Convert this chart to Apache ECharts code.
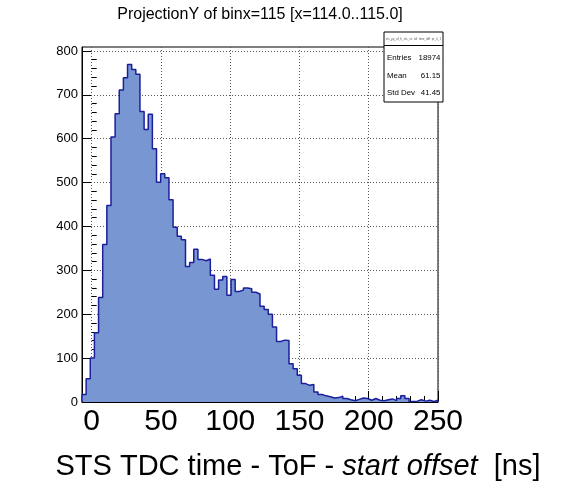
<!DOCTYPE html>
<html>
<head>
<meta charset="utf-8">
<script src="https://cdn.jsdelivr.net/npm/echarts@6/dist/echarts.min.js"></script>
<style>
  html, body { margin: 0; padding: 0; background: #ffffff; }
  #chart { width: 575px; height: 487px; }
</style>
</head>
<body>
<div id="chart"></div>
<script>
// Histogram: ProjectionY of binx=115, STS TDC time relative to ToF minus start offset
const histTitle = 'ProjectionY of binx=115 [x=114.0..115.0]';
const histName = 'sts_py_of_h_sts_vs_tof_time_diff_pr_0_1';
const xTitleParts = ['STS TDC time - ToF - ', 'start offset', '  [ns]'];

// Axis range of the histogram (bins are equally wide inside it)
const xLow = -7;
const xHigh = 250;
const yMax = 809;

// Bin contents, left to right
const counts = [
  17, 53, 100, 158, 238, 359, 448, 604, 657, 711,
  739, 769, 758, 747, 662, 621, 656, 577, 501, 520,
  511, 461, 398, 378, 370, 309, 318, 348, 325, 322,
  326, 289, 257, 278, 286, 243, 279, 252, 255, 260,
  258, 250, 246, 218, 211, 200, 171, 138, 141, 140,
  87, 76, 61, 42, 38, 40, 23, 17, 14, 12,
  9, 10, 13, 8, 5, 3, 6, 9, 8, 4,
  8, 4, 3, 5, 7, 3, 8, 14, 8, 1,
  2, 5, 2, 4, 1, 4
];

// Tick labels
const xTickLabels = [0, 50, 100, 150, 200, 250];
const yTickLabels = [0, 100, 200, 300, 400, 500, 600, 700, 800];

// Statistics box
const statNames = ['Entries', 'Mean', 'Std Dev'];
const statValues = ['18974', '61.15', '41.45'];

// Minor tick positions (every 10 on x, every 20 on y)
const xMinorTicks = [];
for (let v = 0; v <= xHigh; v += 10) if (v % 50 !== 0) xMinorTicks.push(v);
const yMinorTicks = [];
for (let v = 0; v <= yMax; v += 20) if (v % 100 !== 0) yMinorTicks.push(v);

// Outline of the histogram as a stepped path over the bin edges
const binW = (xHigh - xLow) / counts.length;
const histPoints = [[xLow, 0]];
counts.forEach((c, i) => histPoints.push([xLow + i * binW, c]));
histPoints.push([xHigh, counts[counts.length - 1]]);
histPoints.push([xHigh, 0]);

const FONT = 'Liberation Sans, Arial, Helvetica, sans-serif';
const fillColor = '#7897d2';
const lineColor = '#1b1f9a';
const gridDash = { color: '#555555', width: 1, type: [1, 2] };

const chart = echarts.init(document.getElementById('chart'), null, { renderer: 'canvas' });

const boxX = 384, boxY = 32, boxW = 59, boxH = 70;
const BOX_Z = 100;

chart.setOption({
  animation: false,
  backgroundColor: '#ffffff',
  grid: {
    left: 82, right: 137, top: 47, bottom: 85,
    show: true, borderColor: '#000000', borderWidth: 1, backgroundColor: 'transparent'
  },
  xAxis: [
    {
      type: 'value', min: xLow, max: xHigh, position: 'bottom',
      axisLine: { show: true, onZero: false, lineStyle: { color: '#000', width: 1 } },
      axisTick: { show: true, inside: true, length: 11, customValues: xTickLabels, lineStyle: { color: '#000' } },
      axisLabel: {
        show: true, customValues: xTickLabels, margin: 5,
        fontFamily: FONT, fontSize: 30, color: '#000'
      },
      splitLine: { show: true, lineStyle: gridDash }
    },
    {
      type: 'value', min: xLow, max: xHigh, position: 'bottom',
      axisLine: { show: false },
      axisTick: { show: true, inside: true, length: 6, customValues: xMinorTicks, lineStyle: { color: '#000' } },
      axisLabel: { show: false },
      splitLine: { show: false }
    }
  ],
  yAxis: [
    {
      type: 'value', min: 0, max: yMax, position: 'left',
      axisLine: { show: true, onZero: false, lineStyle: { color: '#000', width: 1 } },
      axisTick: { show: true, inside: true, length: 9, customValues: yTickLabels, lineStyle: { color: '#000' } },
      axisLabel: {
        show: true, customValues: yTickLabels, margin: 4,
        fontFamily: FONT, fontSize: 13, color: '#000'
      },
      splitLine: { show: true, lineStyle: gridDash }
    },
    {
      type: 'value', min: 0, max: yMax, position: 'left',
      axisLine: { show: false },
      axisTick: { show: true, inside: true, length: 5, customValues: yMinorTicks, lineStyle: { color: '#000' } },
      axisLabel: { show: false },
      splitLine: { show: false }
    }
  ],
  series: [
    {
      type: 'line',
      xAxisIndex: 0, yAxisIndex: 0,
      data: histPoints,
      step: 'end',
      showSymbol: false,
      symbol: 'none',
      silent: true,
      lineStyle: { color: lineColor, width: 1.5 },
      areaStyle: { color: fillColor, opacity: 1 },
      z: 3
    }
  ],
  graphic: [
    {
      type: 'text', silent: true,
      style: {
        text: histTitle, x: 260, y: 15,
        align: 'center', verticalAlign: 'middle',
        font: '16px ' + FONT, fill: '#000'
      }
    },
    {
      type: 'rect', silent: true, z: BOX_Z,
      shape: { x: boxX, y: boxY, width: boxW, height: boxH },
      style: { fill: '#ffffff', stroke: '#000000', lineWidth: 1 }
    },
    {
      type: 'line', silent: true, z: BOX_Z + 1,
      shape: { x1: boxX, y1: boxY + 13.5, x2: boxX + boxW, y2: boxY + 13.5 },
      style: { stroke: '#000000', lineWidth: 1 }
    },
    {
      type: 'text', silent: true, z: BOX_Z + 1,
      style: {
        text: histName, x: boxX + boxW / 2, y: boxY + 7,
        align: 'center', verticalAlign: 'middle',
        font: '3px ' + FONT, fill: '#555'
      }
    },
    ...statNames.map((n, i) => ({
      type: 'text', silent: true, z: BOX_Z + 1,
      style: {
        text: n, x: boxX + 3, y: boxY + 26 + i * 17.5,
        align: 'left', verticalAlign: 'middle',
        font: '7.9px ' + FONT, fill: '#000'
      }
    })),
    ...statValues.map((v, i) => ({
      type: 'text', silent: true, z: BOX_Z + 1,
      style: {
        text: v, x: boxX + boxW - 2.5, y: boxY + 26 + i * 17.5,
        align: 'right', verticalAlign: 'middle',
        font: '7.9px ' + FONT, fill: '#000'
      }
    })),
    {
      type: 'text', silent: true,
      style: {
        text: xTitleParts[0] + '{i|' + xTitleParts[1] + '}' + xTitleParts[2],
        x: 298, y: 467, align: 'center', verticalAlign: 'middle',
        font: '29px ' + FONT, fill: '#000',
        rich: { i: { fontStyle: 'italic', fontSize: 29, fontFamily: FONT, fill: '#000' } }
      }
    }
  ]
});
</script>
</body>
</html>
